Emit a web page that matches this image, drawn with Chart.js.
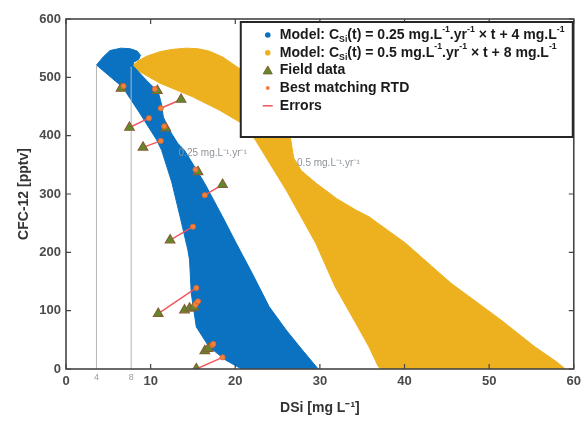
<!DOCTYPE html>
<html><head><meta charset="utf-8">
<script src="https://cdn.jsdelivr.net/npm/chart.js@4/dist/chart.umd.min.js"></script>
<style>html,body{margin:0;padding:0;background:#fff;}#wrap{width:586px;height:427px;}</style>
</head><body><div id="wrap"><canvas id="c" width="586" height="427"></canvas></div>
<script>
// ---------- data ----------
const xTickValues = [0, 10, 20, 30, 40, 50, 60];
const yTickValues = [0, 100, 200, 300, 400, 500, 600];

// outline of the model envelope, 0.25 mg/L/yr (blue)
const blueX = [3.6, 4.4, 5.2, 6.5, 7.6, 8.4, 8.8, 8.6, 8.0, 7.9, 9.5, 10.9, 11.3, 11.5, 12.2, 13.2, 14.0, 16.4, 18.5, 20.1, 22.0, 24.0, 26.0, 27.9, 29.8, 20.8, 20.5, 18.9, 16.9, 15.4, 14.8, 14.6, 14.4, 13.5, 12.5, 11.3, 10.7, 8.7, 6.7, 3.6];
const blueY = [521, 535, 546, 550, 549, 545, 538, 531, 526, 520, 495, 475, 453, 432, 410, 387, 375, 318, 261, 216, 164, 107, 67, 33, 0, 0, 2, 15, 38, 72, 130, 187, 204, 260, 320, 375, 393, 439, 483, 521];

// outline of the model envelope, 0.5 mg/L/yr (yellow)
const yellowX = [7.7, 8.5, 9.5, 11.1, 12.6, 14.2, 15.6, 16.9, 18.5, 20.5, 22.5, 24.5, 25.8, 26.5, 26.9, 27.8, 29.6, 32.0, 34.2, 35.8, 40.1, 45.5, 51.4, 55.4, 58.0, 59.0, 37.3, 36.9, 35.8, 33.8, 31.8, 29.5, 26.0, 22.4, 20.8, 18.1, 14.9, 11.1, 8.3, 7.7];
const yellowY = [518, 528, 536, 544, 548, 550, 549, 545, 535, 515, 488, 455, 425, 398, 362, 340, 318, 292, 273, 261, 216, 147, 84, 38, 12, 0, 0, 4, 38, 90, 141, 216, 307, 392, 421, 444, 467, 490, 513, 518];

// field data (triangles) and best matching RTD (orange dots), paired by index
const fieldX = [6.5, 10.8, 13.6, 7.5, 11.8, 9.1, 15.6, 18.5, 12.3, 10.9, 14.0, 14.6, 15.1, 16.4, 16.8, 15.4];
const fieldY = [481, 477, 462, 414, 413, 380, 338, 316, 221, 95, 101, 104, 106, 31, 35, 0];
const rtdX = [6.8, 10.5, 11.2, 9.8, 11.6, 11.2, 15.3, 16.4, 15.0, 15.4, 15.4, 15.3, 15.6, 17.3, 17.4, 18.5];
const rtdY = [485, 480, 447, 430, 416, 391, 342, 298, 244, 139, 113, 110, 116, 41, 43, 20];

// vertical reference lines (initial concentrations) and their labels
const refLineX = [3.6, 7.7];
const refLineTop = [521, 518];
const refLineLabels = ['4', '8'];

// slope annotations
const slopeLabels = ['0.25 mg.L\u207B\u00B9.yr\u207B\u00B9', '0.5 mg.L\u207B\u00B9.yr\u207B\u00B9'];
const slopeLabelX = [13.3, 27.3];
const slopeLabelY = [370, 352];

// ---------- styles ----------
const BLUE = '#0a72c1', YELLOW = '#edb120', GREEN = '#5e8a2c', GREEN_EDGE = '#866034',
      ORANGE = '#f0813f', RED = '#f2555a', AXIS = '#454545', FONT = '"Liberation Sans", Arial, Helvetica, sans-serif';

const pts = (xs, ys) => xs.map((x, i) => ({x, y: ys[i]}));

const datasets = [];
datasets.push({label: 'rtd', data: pts(rtdX, rtdY), showLine: false, pointStyle: 'circle', pointRadius: 2.6,
  backgroundColor: ORANGE, borderColor: '#e0662a', borderWidth: 0.8, order: 1});
datasets.push({label: 'field', data: pts(fieldX, fieldY), showLine: false, pointStyle: 'triangle', pointRadius: 5.5,
  backgroundColor: GREEN, borderColor: GREEN_EDGE, borderWidth: 1.2, order: 2});
fieldX.forEach((fx, i) => datasets.push({label: 'err', data: [{x: fx, y: fieldY[i]}, {x: rtdX[i], y: rtdY[i]}],
  showLine: true, pointRadius: 0, borderColor: RED, borderWidth: 1.4, order: 3}));
refLineX.forEach((rx, i) => datasets.push({label: 'ref', data: [{x: rx, y: 0}, {x: rx, y: refLineTop[i]}],
  showLine: true, pointRadius: 0, borderColor: '#b5b5b5', borderWidth: 1, order: 8}));
datasets.push({label: 'blue', data: pts(blueX, blueY), showLine: true, fill: 'shape', pointRadius: 0, tension: 0,
  backgroundColor: BLUE, borderColor: BLUE, borderWidth: 1, order: 9});
datasets.push({label: 'yellow', data: pts(yellowX, yellowY), showLine: true, fill: 'shape', pointRadius: 0, tension: 0,
  backgroundColor: YELLOW, borderColor: YELLOW, borderWidth: 1, order: 10});

// ---------- legend content ----------
const legendItems = [
  {kind: 'dot', color: BLUE, parts: [['Model: C'], ['Si', 'sub'], ['(t) = 0.25 mg.L'], ['-1', 'sup'], ['.yr'], ['-1', 'sup'], [' \u00D7 t + 4 mg.L'], ['-1', 'sup']]},
  {kind: 'dot', color: YELLOW, parts: [['Model: C'], ['Si', 'sub'], ['(t) = 0.5 mg.L'], ['-1', 'sup'], ['.yr'], ['-1', 'sup'], [' \u00D7 t + 8 mg.L'], ['-1', 'sup']]},
  {kind: 'tri', color: GREEN, parts: [['Field data']]},
  {kind: 'small', color: ORANGE, parts: [['Best matching RTD']]},
  {kind: 'line', color: RED, parts: [['Errors']]}
];

function richWidth(ctx, parts, fs) {
  let w = 0;
  parts.forEach(p => { ctx.font = 'bold ' + (p[1] ? fs * 0.62 : fs) + 'px ' + FONT; w += ctx.measureText(p[0]).width; });
  return w;
}
function drawRich(ctx, parts, x, y, fs) {
  ctx.textBaseline = 'middle'; ctx.textAlign = 'left';
  parts.forEach(p => {
    const small = !!p[1];
    ctx.font = 'bold ' + (small ? fs * 0.62 : fs) + 'px ' + FONT;
    const dy = p[1] === 'sub' ? fs * 0.35 : (p[1] === 'sup' ? -fs * 0.4 : 0);
    ctx.fillText(p[0], x, y + dy);
    x += ctx.measureText(p[0]).width;
  });
}

const framePlugin = {
  id: 'frame',
  afterDatasetsDraw(chart) {
    const {ctx, chartArea: a, scales: {x, y}} = chart;
    ctx.save();
    // slope labels
    ctx.fillStyle = '#8d929a'; ctx.font = '10px ' + FONT; ctx.textBaseline = 'middle'; ctx.textAlign = 'left';
    slopeLabels.forEach((t, i) => ctx.fillText(t, x.getPixelForValue(slopeLabelX[i]), y.getPixelForValue(slopeLabelY[i])));
    // box
    ctx.strokeStyle = AXIS; ctx.lineWidth = 1.6;
    ctx.strokeRect(a.left, a.top, a.right - a.left, a.bottom - a.top);
    // inward ticks
    ctx.lineWidth = 1.2; ctx.beginPath();
    xTickValues.forEach(v => { const px = x.getPixelForValue(v);
      ctx.moveTo(px, a.bottom); ctx.lineTo(px, a.bottom - 5); ctx.moveTo(px, a.top); ctx.lineTo(px, a.top + 5); });
    yTickValues.forEach(v => { const py = y.getPixelForValue(v);
      ctx.moveTo(a.left, py); ctx.lineTo(a.left + 5, py); ctx.moveTo(a.right, py); ctx.lineTo(a.right - 5, py); });
    ctx.stroke();
    // reference line labels
    ctx.fillStyle = '#9a9a9a'; ctx.font = '9px ' + FONT; ctx.textAlign = 'center'; ctx.textBaseline = 'top';
    refLineX.forEach((rx, i) => ctx.fillText(refLineLabels[i], x.getPixelForValue(rx), a.bottom + 4));
    ctx.restore();
  },
  afterDraw(chart) {
    const {ctx, chartArea: a} = chart;
    ctx.save();
    let fs = 11;
    fs = fs * 285 / richWidth(ctx, legendItems[0].parts, fs);
    const boxR = a.right - 1, boxL = a.right - 333, boxT = a.top + 3, boxB = a.top + 118;
    ctx.fillStyle = '#fff'; ctx.fillRect(boxL, boxT, boxR - boxL, boxB - boxT);
    ctx.strokeStyle = '#262626'; ctx.lineWidth = 2; ctx.strokeRect(boxL, boxT, boxR - boxL, boxB - boxT);
    const mx = boxL + 27, tx = boxL + 39;
    legendItems.forEach((it, i) => {
      const cy = boxT + 13 + i * 17.7;
      ctx.fillStyle = it.color; ctx.strokeStyle = it.color;
      if (it.kind === 'dot') { ctx.beginPath(); ctx.arc(mx, cy, 2.8, 0, Math.PI * 2); ctx.fill(); }
      else if (it.kind === 'small') { ctx.beginPath(); ctx.arc(mx, cy, 2, 0, Math.PI * 2); ctx.fill(); }
      else if (it.kind === 'tri') { ctx.beginPath(); ctx.moveTo(mx, cy - 4.5); ctx.lineTo(mx + 4.5, cy + 3.5); ctx.lineTo(mx - 4.5, cy + 3.5); ctx.closePath();
        ctx.fill(); ctx.strokeStyle = GREEN_EDGE; ctx.lineWidth = 1; ctx.stroke(); }
      else { ctx.lineWidth = 1.5; ctx.beginPath(); ctx.moveTo(mx - 5, cy); ctx.lineTo(mx + 5, cy); ctx.stroke(); }
      ctx.fillStyle = '#1a1a1a';
      drawRich(ctx, it.parts, tx, cy, fs);
    });
    ctx.restore();
  }
};

new Chart(document.getElementById('c'), {
  type: 'scatter',
  data: {datasets},
  options: {
    responsive: false, animation: false, devicePixelRatio: 1,
    layout: {padding: {top: 19, right: 10, left: 0, bottom: 0}},
    plugins: {legend: {display: false}, tooltip: {enabled: false}},
    scales: {
      x: {type: 'linear', min: 0, max: 60,
        afterBuildTicks: s => { s.ticks = xTickValues.map(v => ({value: v})); },
        afterFit: s => { s.height = 58; },
        grid: {display: false, drawTicks: false}, border: {display: false},
        ticks: {color: '#4a4a4a', font: {family: FONT, size: 13, weight: 'bold'}, padding: 5, maxRotation: 0},
        title: {display: true, text: 'DSi [mg L\u207B\u00B9]', color: '#333', font: {family: FONT, size: 14, weight: 'bold'}, padding: {top: 0, bottom: 10}}
      },
      y: {type: 'linear', min: 0, max: 600,
        afterBuildTicks: s => { s.ticks = yTickValues.map(v => ({value: v})); },
        afterFit: s => { s.width = 66; },
        grid: {display: false, drawTicks: false}, border: {display: false},
        ticks: {color: '#4a4a4a', font: {family: FONT, size: 13, weight: 'bold'}, padding: 5},
        title: {display: true, text: 'CFC-12 [pptv]', color: '#333', font: {family: FONT, size: 14, weight: 'bold'}, padding: {top: 16, bottom: 0}}
      }
    }
  },
  plugins: [framePlugin]
});
</script></body></html>
